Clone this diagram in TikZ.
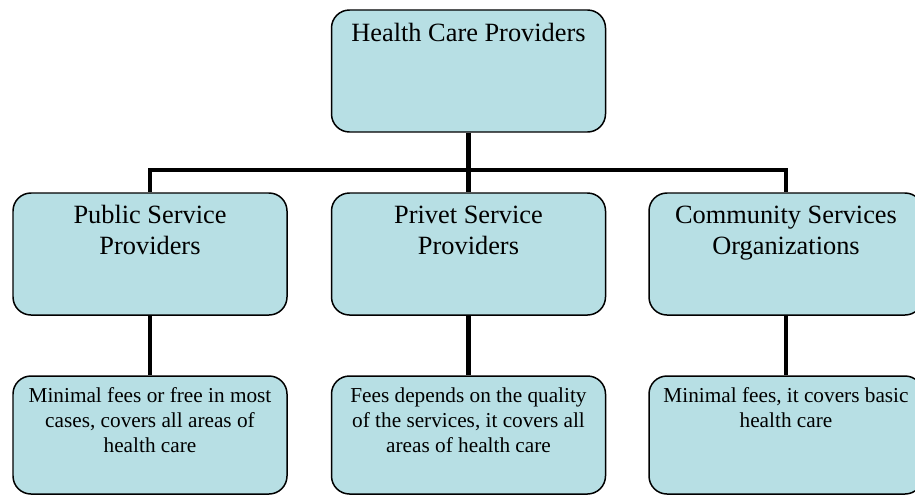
\documentclass[tikz,border=0pt]{standalone}
\usepackage{fontspec}
\setmainfont{Liberation Serif}
\usepackage{xcolor}
\usepackage{tikz}
\definecolor{boxfill}{RGB}{183,223,228}
\newcommand{\inbox}[3]{\parbox[c][#1][t]{5.4cm}{\centering\rule{0pt}{#2}#3}}

\begin{document}
\begin{tikzpicture}[
	box/.style={draw, line width=0.85pt, fill=boxfill, rounded corners=0.36cm, inner sep=0pt, minimum width=5.48cm},
	bigfont/.style={font=\fontsize{15}{17.6}\selectfont, minimum height=2.44cm},
	smallfont/.style={font=\fontsize{12.1}{14.2}\selectfont, minimum height=2.36cm},
	link/.style={line width=2.8pt}]
			\useasboundingbox (0,0) rectangle (18.3,-9.9);
			% Nút gốc
			\node[box, bigfont] (top) at (9.37,-1.42) {\inbox{2.44cm}{18.1pt}{Health Care Providers}};
			% Ba nhóm
			\node[box, bigfont] (pub) at (3.0,-5.08) {\inbox{2.44cm}{17.6pt}{Public Service\\Providers}};
			\node[box, bigfont] (priv) at (9.37,-5.08) {\inbox{2.44cm}{17.6pt}{Privet Service\\Providers}};
			\node[box, bigfont] (com) at (15.72,-5.08) {\inbox{2.44cm}{17.6pt}{Community Services\\Organizations}};
			% Ghi chú
			\node[box, smallfont] (pubnote) at (3.0,-8.7) {\inbox{2.36cm}{15.1pt}{Minimal fees or free in most\\cases, covers all areas of\\health care}};
			\node[box, smallfont] (privnote) at (9.37,-8.7) {\inbox{2.36cm}{15.1pt}{Fees depends on the quality\\of the services, it covers all\\areas of health care}};
			\node[box, smallfont] (comnote) at (15.72,-8.7) {\inbox{2.36cm}{15.1pt}{Minimal fees, it covers basic\\health care}};
			% Đường nối
			\coordinate (junction) at (9.37,-3.4);
			\draw[link] (top.south) -- (junction);
			\draw[link] (junction) -| (pub.north);
			\draw[link] (junction) -| (com.north);
			\draw[link] (junction) -- (priv.north);
			\foreach \a/\b in {pub/pubnote,priv/privnote,com/comnote}
			\draw[link] (\a.south) -- (\b.north);
		\end{tikzpicture}
\end{document}
